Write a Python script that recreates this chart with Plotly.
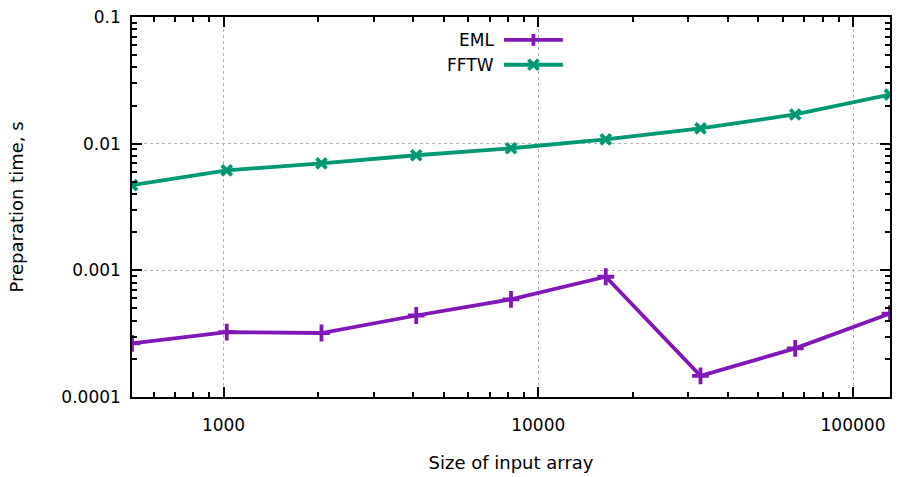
import math
import plotly.graph_objects as go

sizes = [512, 1024, 2048, 4096, 8192, 16384, 32768, 65536, 131072]
eml = [2.65e-4, 3.25e-4, 3.2e-4, 4.4e-4, 5.9e-4, 8.9e-4, 1.47e-4, 2.42e-4, 4.56e-4]
fftw = [4.7e-3, 6.15e-3, 7.0e-3, 8.1e-3, 9.2e-3, 1.08e-2, 1.32e-2, 1.70e-2, 2.44e-2]

x_ticks = [1000, 10000, 100000]
x_ticklabels = ["1000", "10000", "100000"]
y_ticks = [0.0001, 0.001, 0.01, 0.1]
y_ticklabels = ["0.0001", "0.001", "0.01", "0.1"]

PURPLE = "#8018B8"
GREEN = "#009873"
FONT = "DejaVu Sans"

def minor_vals(lo_exp, hi_exp):
    return [m * 10 ** e for e in range(lo_exp, hi_exp + 1) for m in range(2, 10)]

fig = go.Figure()
fig.add_trace(go.Scatter(
    x=sizes, y=eml, mode="lines+markers", name="EML",
    line=dict(color=PURPLE, width=3.8),
    marker=dict(symbol="cross-thin", size=12, line=dict(color=PURPLE, width=3.8)),
    showlegend=False))
fig.add_trace(go.Scatter(
    x=sizes, y=fftw, mode="lines+markers", name="FFTW",
    line=dict(color=GREEN, width=3.8),
    marker=dict(symbol="x-thin", size=10, line=dict(color=GREEN, width=3.8)),
    showlegend=False))

axis_common = dict(
    type="log", showline=True, linecolor="black", linewidth=1.5, mirror="ticks",
    ticks="inside", ticklen=10, tickwidth=1.5, tickcolor="black",
    showgrid=True, gridcolor="#b4b4b4", griddash="dot", gridwidth=1,
    zeroline=False, tickfont=dict(family=FONT, size=17, color="black"),
)
fig.update_xaxes(
    **axis_common,
    range=[math.log10(sizes[0]), math.log10(sizes[-1])],
    tickmode="array", tickvals=x_ticks, ticktext=x_ticklabels,
    ticklabelstandoff=12,
    minor=dict(ticks="inside", ticklen=5, tickwidth=1.5, tickcolor="black",
               tickmode="array", tickvals=minor_vals(2, 5), showgrid=False),
    title=dict(text="Size of input array", font=dict(family=FONT, size=18, color="black"), standoff=22),
)
fig.update_yaxes(
    **axis_common,
    range=[-4, -1],
    tickmode="array", tickvals=y_ticks, ticktext=y_ticklabels,
    ticklabelstandoff=6,
    minor=dict(ticks="inside", ticklen=5, tickwidth=1.5, tickcolor="black",
               tickmode="array", tickvals=minor_vals(-4, -2), showgrid=False),
    title=dict(text="Preparation time, s", font=dict(family=FONT, size=18, color="black"), standoff=33),
)

# gnuplot-style legend: label on the left, sample on the right
legend_items = [("EML", PURPLE, "plus", 0.9398), ("FFTW", GREEN, "x", 0.8743)]
shapes = []
annotations = []
lx0, lx1, lxm, ltx = 0.4908, 0.5684, 0.5296, 0.4803
for label, color, kind, yy in legend_items:
    shapes.append(dict(type="line", xref="paper", yref="paper", x0=lx0, x1=lx1, y0=yy, y1=yy,
                       line=dict(color=color, width=3.8)))
    if kind == "plus":
        shapes.append(dict(type="line", xref="paper", yref="paper", xsizemode="pixel", ysizemode="pixel",
                           xanchor=lxm, yanchor=yy, x0=0, x1=0, y0=-6, y1=6, line=dict(color=color, width=3.8)))
    else:
        for a, b in [(-5, 5), (5, -5)]:
            shapes.append(dict(type="line", xref="paper", yref="paper", xsizemode="pixel", ysizemode="pixel",
                               xanchor=lxm, yanchor=yy, x0=-5, x1=5, y0=a, y1=b, line=dict(color=color, width=3.8)))
    annotations.append(dict(text=label, xref="paper", yref="paper", x=ltx, y=yy, xanchor="right", yanchor="middle",
                            showarrow=False, font=dict(family=FONT, size=17, color="black")))

fig.update_layout(
    width=899, height=477,
    margin=dict(l=132, r=7, t=15, b=80),
    paper_bgcolor="white", plot_bgcolor="white",
    shapes=shapes, annotations=annotations,
    showlegend=False,
)
fig.write_html("out.html")
